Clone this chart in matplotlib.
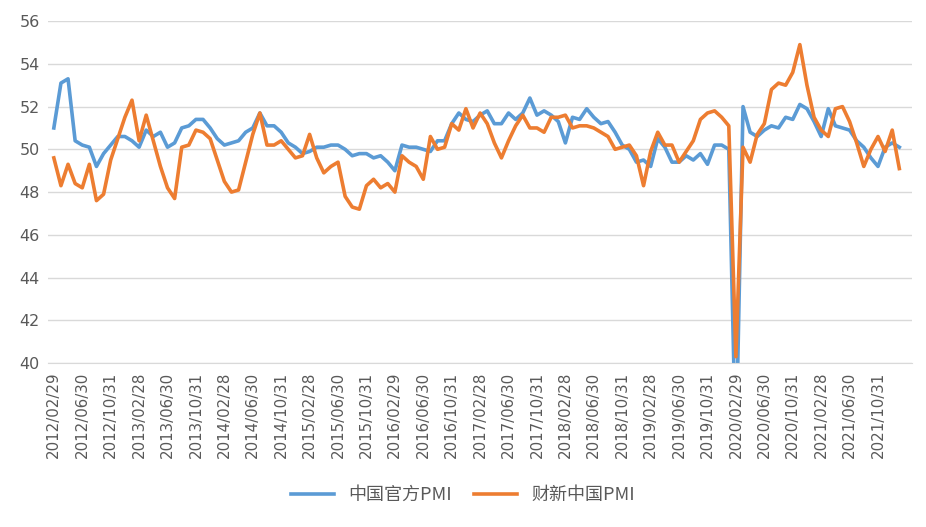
import matplotlib
matplotlib.use("Agg")
from matplotlib import pyplot as plt
import pandas as pd

# monthly, 2012/02 .. 2022/01
official_pmi = [
    51.0, 53.1, 53.3, 50.4, 50.2, 50.1, 49.2, 49.8, 50.2, 50.6, 50.6,
    50.4, 50.1, 50.9, 50.6, 50.8, 50.1, 50.3, 51.0, 51.1, 51.4, 51.4, 51.0,
    50.5, 50.2, 50.3, 50.4, 50.8, 51.0, 51.7, 51.1, 51.1, 50.8, 50.3, 50.1,
    49.8, 49.9, 50.1, 50.1, 50.2, 50.2, 50.0, 49.7, 49.8, 49.8, 49.6, 49.7,
    49.4, 49.0, 50.2, 50.1, 50.1, 50.0, 49.9, 50.4, 50.4, 51.2, 51.7, 51.4,
    51.3, 51.6, 51.8, 51.2, 51.2, 51.7, 51.4, 51.7, 52.4, 51.6, 51.8, 51.6,
    51.3, 50.3, 51.5, 51.4, 51.9, 51.5, 51.2, 51.3, 50.8, 50.2, 50.0, 49.4,
    49.5, 49.2, 50.5, 50.1, 49.4, 49.4, 49.7, 49.5, 49.8, 49.3, 50.2, 50.2,
    50.0, 35.7, 52.0, 50.8, 50.6, 50.9, 51.1, 51.0, 51.5, 51.4, 52.1, 51.9,
    51.3, 50.6, 51.9, 51.1, 51.0, 50.9, 50.4, 50.1, 49.6, 49.2, 50.1, 50.3,
    50.1,
]
caixin_pmi = [
    49.6, 48.3, 49.3, 48.4, 48.2, 49.3, 47.6, 47.9, 49.5, 50.5, 51.5,
    52.3, 50.4, 51.6, 50.4, 49.2, 48.2, 47.7, 50.1, 50.2, 50.9, 50.8, 50.5,
    49.5, 48.5, 48.0, 48.1, 49.4, 50.7, 51.7, 50.2, 50.2, 50.4, 50.0, 49.6,
    49.7, 50.7, 49.6, 48.9, 49.2, 49.4, 47.8, 47.3, 47.2, 48.3, 48.6, 48.2,
    48.4, 48.0, 49.7, 49.4, 49.2, 48.6, 50.6, 50.0, 50.1, 51.2, 50.9, 51.9,
    51.0, 51.7, 51.2, 50.3, 49.6, 50.4, 51.1, 51.6, 51.0, 51.0, 50.8, 51.5,
    51.5, 51.6, 51.0, 51.1, 51.1, 51.0, 50.8, 50.6, 50.0, 50.1, 50.2, 49.7,
    48.3, 49.9, 50.8, 50.2, 50.2, 49.4, 49.9, 50.4, 51.4, 51.7, 51.8, 51.5,
    51.1, 40.3, 50.1, 49.4, 50.7, 51.2, 52.8, 53.1, 53.0, 53.6, 54.9, 53.0,
    51.5, 50.9, 50.6, 51.9, 52.0, 51.3, 50.3, 49.2, 50.0, 50.6, 49.9, 50.9,
    49.1,
]
dates = pd.date_range("2012-02-01", periods=len(official_pmi), freq="ME")
date_labels = [d.strftime("%Y/%m/%d") for d in dates]

plt.rcParams["font.family"] = ["Noto Sans CJK SC", "DejaVu Sans"]

fig = plt.figure(figsize=(9.26, 5.27), dpi=100)
ax = fig.add_axes([0.052, 0.311, 0.933, 0.649])

x = list(range(len(official_pmi)))
ax.plot(x, official_pmi, color="#5B9BD5", lw=2.6, label="中国官方PMI", solid_joinstyle="round")
ax.plot(x, caixin_pmi, color="#ED7D31", lw=2.6, label="财新中国PMI", solid_joinstyle="round")

ax.set_ylim(40, 56)
ax.set_yticks(range(40, 57, 2))
ax.set_xlim(-0.8, len(x) + 0.8)
ax.set_xticks(x[::4])
ax.set_xticklabels(date_labels[::4], rotation=90, fontsize=10.8, color="#595959",
                   family="DejaVu Sans")
for lab in ax.get_yticklabels():
    lab.set_fontsize(11.5)
    lab.set_color("#595959")
    lab.set_family("DejaVu Sans")

ax.grid(axis="y", color="#D9D9D9", lw=1)
ax.set_axisbelow(True)
for s in ax.spines.values():
    s.set_visible(False)
ax.spines["bottom"].set_visible(True)
ax.spines["bottom"].set_color("#D9D9D9")
ax.tick_params(length=0, pad=6)

fig.legend(loc="center", bbox_to_anchor=(0.5, 0.061), ncol=2, frameon=False,
           fontsize=13, handlelength=2.4, columnspacing=1.2,
           labelcolor="#595959")

fig.savefig("out.png", dpi=100)
